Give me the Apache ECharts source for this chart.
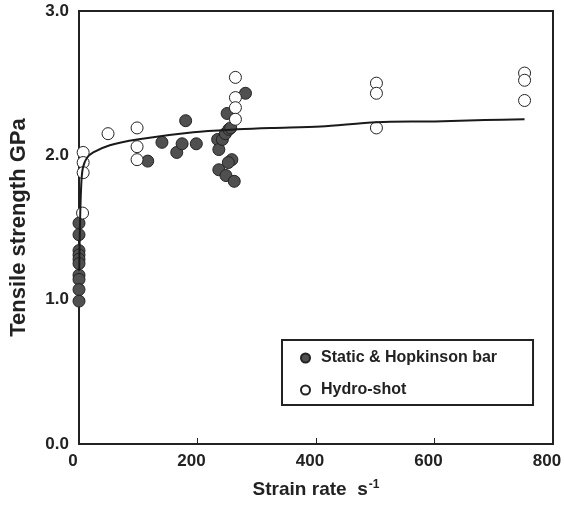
<!DOCTYPE html>
<html>
<head>
<meta charset="utf-8">
<title>Tensile strength vs strain rate</title>
<script src="https://cdn.jsdelivr.net/npm/echarts@6/dist/echarts.min.js"></script>
<style>
  html, body { margin: 0; padding: 0; background: #fff; }
  #main { width: 564px; height: 508px; }
</style>
</head>
<body>
<div id="main"></div>
<script>
// Static & Hopkinson bar (filled)
var staticX = [0, 0, 0, 0, 0, 0, 0, 0, 0, 0,
  116, 140, 165, 174, 180, 198, 234, 236, 242, 247, 250, 253, 256, 281,
  258, 252, 236, 248, 262];
var staticY = [1.53, 1.45, 1.34, 1.31, 1.28, 1.25, 1.17, 1.14, 1.07, 0.99,
  1.96, 2.09, 2.02, 2.08, 2.24, 2.08, 2.11, 2.04, 2.11, 2.15, 2.29, 2.18, 2.19, 2.43,
  1.97, 1.95, 1.90, 1.86, 1.82];
// Hydro-shot (open)
var hydroX = [6, 7, 7, 7, 49, 98, 98, 98, 264, 264, 264, 264, 502, 502, 502, 752, 752, 752];
var hydroY = [1.60, 2.02, 1.95, 1.88, 2.15, 2.19, 2.06, 1.97, 2.54, 2.40, 2.33, 2.25,
  2.50, 2.43, 2.19, 2.57, 2.52, 2.38];
// fitted curve
var fitX = [0.3, 1, 2, 3, 4.6, 7, 13, 24, 52, 98, 193, 267, 324, 408, 502, 600, 685, 752];
var fitY = [1.2, 1.38, 1.58, 1.72, 1.85, 1.92, 1.98, 2.02, 2.07, 2.11, 2.16, 2.18, 2.19, 2.20, 2.23, 2.235, 2.245, 2.25];

var xTicks = [0, 200, 400, 600, 800];
var yTicks = [0.0, 1.0, 2.0, 3.0];

function pairs(xs, ys) {
  var out = [];
  for (var i = 0; i < xs.length; i++) out.push([xs[i], ys[i]]);
  return out;
}

var font = 'Liberation Sans, Arial, sans-serif';
var ink = '#222';

var chart = echarts.init(document.getElementById('main'));
chart.setOption({
  animation: false,
  textStyle: { fontFamily: font },
  grid: { left: 79, right: 11, top: 11, bottom: 64, outerBoundsMode: 'none', containLabel: false,
    show: true, borderColor: ink, borderWidth: 2 },
  legend: {
    orient: 'vertical',
    left: 282, top: 340,
    padding: [10, 36, 7, 18],
    itemGap: 16,
    itemWidth: 9, itemHeight: 9,
    borderColor: ink, borderWidth: 2,
    data: ['Static & Hopkinson bar', 'Hydro-shot'],
    textStyle: { fontSize: 16, fontWeight: 'bold', color: ink, padding: [0, 0, 0, 6] }
  },
  xAxis: {
    type: 'value', min: xTicks[0], max: xTicks[xTicks.length - 1], interval: 200,
    name: 'Strain rate  s{sup|-1}', nameLocation: 'middle', nameGap: 35,
    nameTextStyle: {
      fontSize: 19, fontWeight: 'bold', color: ink,
      rich: { sup: { fontSize: 12, fontWeight: 'bold', color: ink, verticalAlign: 'top', padding: [0, 0, 9, 1] } }
    },
    axisLine: { lineStyle: { color: ink, width: 2 } },
    axisTick: { inside: true, length: 6, lineStyle: { color: ink } },
    axisLabel: { fontSize: 17, fontWeight: 'bold', color: ink, margin: 9, padding: [0, 12, 0, 0] },
    splitLine: { show: false }
  },
  yAxis: {
    type: 'value', min: yTicks[0], max: yTicks[yTicks.length - 1], interval: 1,
    name: 'Tensile strength GPa', nameLocation: 'middle', nameGap: 49,
    nameTextStyle: { fontSize: 22, fontWeight: 'bold', color: ink },
    axisLine: { lineStyle: { color: ink, width: 2 } },
    axisTick: { inside: true, length: 6, lineStyle: { color: ink } },
    axisLabel: { fontSize: 17, fontWeight: 'bold', color: ink, margin: 10, padding: [6, 0, 0, 0],
      formatter: function (v) { return v.toFixed(1); } },
    splitLine: { show: false }
  },
  series: [
    {
      name: 'Static & Hopkinson bar', type: 'scatter', symbol: 'circle', symbolSize: 12,
      itemStyle: { color: '#505050', borderColor: '#222', borderWidth: 1, opacity: 1 },
      data: pairs(staticX, staticY), z: 2
    },
    {
      name: 'Hydro-shot', type: 'scatter', symbol: 'circle', symbolSize: 12,
      itemStyle: { color: '#fff', borderColor: '#222', borderWidth: 1, opacity: 1 },
      data: pairs(hydroX, hydroY), z: 3
    },
    {
      name: 'fit', type: 'line', showSymbol: false, smooth: 0.3,
      lineStyle: { color: '#1a1a1a', width: 2 },
      data: pairs(fitX, fitY), z: 4
    }
  ]
});
</script>
</body>
</html>
